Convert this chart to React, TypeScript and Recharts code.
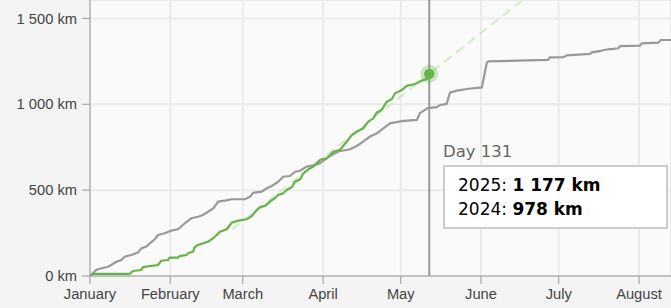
import React from "react";
import {
  LineChart,
  Line,
  XAxis,
  YAxis,
  CartesianGrid,
  ReferenceLine,
  ReferenceDot,
} from "recharts";

// Month tick positions (day of year, Jan 1 = 0) and labels
const monthTicks = [0, 31, 59, 90, 120, 151, 181, 212];
const monthLabels = ["January", "February", "March", "April", "May", "June", "July", "August"];
const kmTicks = [0, 500, 1000, 1500];

// 2025 cumulative distance (day, km)
const days2025 = [0, 1.2, 15.3, 16.6, 19.7, 20.5, 23, 26.3, 27.5, 30.1, 30.8, 34, 34.6, 37.2, 37.8, 39.8, 40.4, 41.7, 44.3, 45.6, 47.6, 50.2, 52.8, 54.7, 57.3, 60.5, 62.4, 64.4, 65.6, 67.6, 69.5, 71.4, 72.7, 74.6, 76, 77.9, 79.2, 81.1, 82.4, 84.3, 86.2, 88.8, 91.4, 94, 96.5, 99.1, 101.1, 103, 105.5, 107.5, 109.4, 110.7, 112.6, 114.6, 116.5, 117.8, 120.4, 122.3, 125.5, 127.4, 130.6, 131];
const km2025 = [0, 12, 12, 29, 35, 51, 58, 64, 89, 93, 107, 107, 116, 122, 132, 142, 167, 181, 194, 200, 220, 258, 272, 310, 322, 330, 349, 384, 400, 408, 433, 453, 472, 482, 501, 517, 549, 563, 598, 621, 637, 676, 685, 724, 734, 782, 821, 840, 860, 899, 918, 951, 967, 1015, 1029, 1064, 1083, 1107, 1118, 1132, 1151, 1177];

// 2024 cumulative distance (day, km)
const days2024 = [0, 2.4, 4.4, 7, 8.2, 10.2, 12.1, 13.4, 15.9, 18.5, 19.8, 21.7, 23.1, 25, 26.3, 28.8, 31.4, 34, 36.6, 39.1, 41.7, 43.6, 45.6, 47.6, 49.5, 52.1, 54.7, 59.9, 61.8, 63.1, 66.3, 68.2, 70.2, 72.7, 74.6, 77.2, 79.2, 81.1, 83.7, 86.9, 88.8, 92.7, 95.9, 100.4, 103, 105.5, 108.1, 110.7, 113.3, 115.8, 120.4, 126.2, 127.4, 130.4, 133.9, 135.2, 137.7, 139, 141.6, 145.5, 151.3, 153.2, 153.8, 176.8, 177.6, 182.8, 184.1, 193.1, 193.7, 196.9, 197.6, 200.1, 204, 204.7, 212.4, 213.1, 219.5, 220.4, 224.35];
const km2024 = [0, 35, 45, 54, 64, 83, 93, 112, 122, 136, 161, 171, 190, 214, 239, 249, 264, 272, 307, 336, 345, 355, 374, 394, 433, 439, 447, 447, 462, 485, 491, 511, 524, 549, 578, 582, 607, 613, 637, 646, 656, 699, 725, 738, 757, 782, 812, 830, 860, 889, 902, 909, 948, 978, 983, 996, 1002, 1068, 1079, 1089, 1098, 1240, 1250, 1258, 1273, 1274, 1285, 1293, 1302, 1309, 1313, 1320, 1326, 1338, 1341, 1355, 1359, 1374, 1374];

// Projection trend (dashed)
const trendDays = [55, 167.1];
const trendKm = [272, 1607];

const currentDay = 131;

const series2025 = days2025.map((d, i) => ({ day: d, km: km2025[i] }));
const series2024 = days2024.map((d, i) => ({ day: d, km: km2024[i] }));
const seriesTrend = trendDays.map((d, i) => ({ day: d, km: trendKm[i] }));

const fmtKm = (n: number) => {
  if (n >= 1000) {
    return `${Math.floor(n / 1000)} ${String(n % 1000).padStart(3, "0")} km`;
  }
  return `${n} km`;
};

const GREEN = "#66b347";
const GRAY = "#999999";
const AXIS_FONT = "'Liberation Sans', Arial, sans-serif";

const value2025 = km2025[km2025.length - 1];
const value2024 = km2024[days2024.findIndex((d) => d >= currentDay - 1)];

const DotShape = (props: any) => {
  const { cx, cy } = props;
  return (
    <g>
      <circle cx={cx} cy={cy} r={9} fill={GREEN} fillOpacity={0.3} />
      <circle cx={cx} cy={cy} r={5.2} fill={GREEN} />
    </g>
  );
};

export default function App() {
  return (
    <div
      style={{
        position: "absolute",
        left: 0,
        top: 0,
        width: 671,
        height: 308,
        background: "#f4f4f4",
        overflow: "hidden",
      }}
    >
      <LineChart width={671} height={308} margin={{ top: 0, right: 0, left: 0, bottom: 0 }}>
        <CartesianGrid stroke="#ebebeb" strokeWidth={2} fill="#fafafa" />
        <XAxis
          type="number"
          dataKey="day"
          domain={[0, 224.35]}
          allowDataOverflow
          ticks={monthTicks}
          tickFormatter={(v: number) => monthLabels[monthTicks.indexOf(v)]}
          height={32}
          tickSize={8}
          tickMargin={5}
          stroke="#999"
          tick={{ fill: "#444", fontSize: 14.7, fontFamily: AXIS_FONT }}
          interval={0}
        />
        <YAxis
          type="number"
          domain={[0, 1607]}
          allowDataOverflow
          ticks={kmTicks}
          tickFormatter={fmtKm}
          width={90}
          tickSize={8}
          tickMargin={5}
          stroke="#999"
          tick={{ fill: "#444", fontSize: 14.7, fontFamily: AXIS_FONT }}
          interval={0}
        />
        <Line
          data={seriesTrend}
          dataKey="km"
          type="linear"
          stroke="#d3ebc7"
          strokeWidth={2}
          strokeDasharray="9 6"
          dot={false}
          activeDot={false}
          isAnimationActive={false}
        />
        <Line
          data={series2024}
          dataKey="km"
          type="linear"
          stroke={GRAY}
          strokeWidth={2.2}
          dot={false}
          activeDot={false}
          isAnimationActive={false}
        />
        <Line
          data={series2025}
          dataKey="km"
          type="linear"
          stroke={GREEN}
          strokeWidth={2.2}
          dot={false}
          activeDot={false}
          isAnimationActive={false}
        />
        <ReferenceLine x={currentDay} stroke="#999" strokeWidth={2} />
        <ReferenceDot x={currentDay} y={value2025} shape={DotShape} />
      </LineChart>
      <div
        style={{
          position: "absolute",
          left: 443,
          top: 141,
          fontFamily: "'DejaVu Sans', Verdana, sans-serif",
          fontSize: 16.5,
          color: "#666",
          lineHeight: "22px",
          whiteSpace: "nowrap",
        }}
      >
        Day {currentDay}
      </div>
      <div
        style={{
          position: "absolute",
          left: 443,
          top: 165,
          width: 225,
          height: 64,
          border: "2px solid #cccccc",
          background: "#ffffff",
          fontFamily: "'DejaVu Sans', Verdana, sans-serif",
          fontSize: 17,
          color: "#000",
          lineHeight: "24px",
          padding: "6px 0 0 13px",
          boxSizing: "border-box",
          whiteSpace: "nowrap",
        }}
      >
        <div>
          2025: <b>{fmtKm(value2025)}</b>
        </div>
        <div>
          2024: <b>{fmtKm(value2024)}</b>
        </div>
      </div>
    </div>
  );
}
